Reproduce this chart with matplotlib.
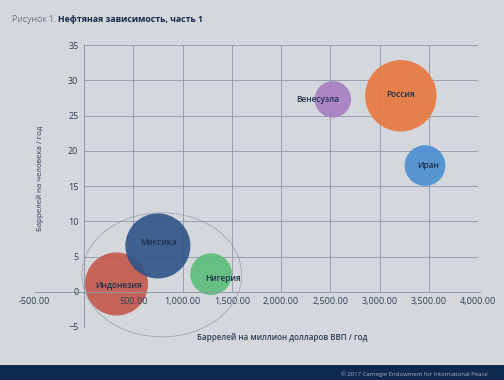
import matplotlib.pyplot as plt
from matplotlib.patches import Ellipse, Rectangle

plt.rcParams['font.family'] = ['Open Sans', 'DejaVu Sans']

# bubble data
countries = ["Индонезия", "Мексика", "Нигерия", "Венесуэла", "Россия", "Иран"]
barrels_per_gdp = [330, 750, 1290, 2525, 3215, 3460]
barrels_per_capita = [1.1, 6.5, 2.5, 27.3, 27.8, 17.9]
bubble_value = [9.6, 10.2, 4.2, 3.2, 12.3, 4.0]
colors = ["#C4584A", "#2F5488", "#5CBD78", "#A77CC2", "#E8773C", "#4A8FD2"]

x_ticks = [-500, 500, 1000, 1500, 2000, 2500, 3000, 3500, 4000]
y_ticks = [-5, 0, 5, 10, 15, 20, 25, 30, 35]

bg = "#D4D7DB"
text_col = "#2E3F57"
grid_col = "#8D97A7"

fig = plt.figure(figsize=(5.04, 3.8), dpi=100, facecolor=bg)
ax = fig.add_axes([0.0688, 0.1395, 0.884, 0.742])
ax.set_facecolor(bg)
ax.set_xlim(-500, 4020)
ax.set_ylim(-5, 35)

# grid only in the positive quadrant, like the original
ax.hlines([t for t in y_ticks if t > 0], 0, 4000, color=grid_col, lw=0.6, zorder=0)
ax.vlines([t for t in x_ticks if 0 < t < 4000], 0, 35, color=grid_col, lw=0.6, zorder=0)

for s in ["top", "right"]:
    ax.spines[s].set_visible(False)
for s in ["left", "bottom"]:
    ax.spines[s].set_position(("data", 0))
    ax.spines[s].set_color(grid_col)
    ax.spines[s].set_linewidth(0.7)
    ax.spines[s].set_zorder(5)
ax.xaxis.set_zorder(5)
ax.yaxis.set_zorder(5)

ax.set_xticks(x_ticks)
ax.set_xticklabels([f"{t:,.2f}" for t in x_ticks])
ax.set_yticks(y_ticks)
ax.tick_params(length=0, labelsize=6.5, labelcolor=text_col, pad=4)

sizes = [v * 215 for v in bubble_value]
ax.scatter(barrels_per_gdp, barrels_per_capita, s=sizes, c=colors,
           alpha=0.9, linewidths=0, zorder=2)

label_offsets = {"Венесуэла": (-15, 0), "Нигерия": (12, -4), "Индонезия": (2, -2),
                 "Мексика": (1, 3), "Иран": (3, 0), "Россия": (0, 1)}
for name, x, y in zip(countries, barrels_per_gdp, barrels_per_capita):
    dx, dy = label_offsets[name]
    ax.annotate(name, (x, y), xytext=(dx * 0.72, dy * 0.72), textcoords="offset points",
                ha="center", va="center", fontsize=6, color="#1E2F4A",
                fontweight="semibold", zorder=6)

ax.add_patch(Ellipse((790, 2.4), 1620, 17.6, fill=False, ec="#6F7A8C",
                     lw=0.5, ls=(0, (1.5, 1)), zorder=4, clip_on=False))

fig.text(282 / 504, 1 - 337 / 380, "Баррелей на миллион долларов ВВП / год",
         ha="center", va="center", fontsize=5.8, color=text_col, fontweight="semibold")
fig.text(40 / 504, 1 - 178 / 380, "Баррелей на человека / год", rotation=90,
         ha="center", va="center", fontsize=5.7, color=text_col)

t1 = fig.text(12 / 504, 1 - 22 / 380, "Рисунок 1. ", fontsize=6.3, color="#6A7687")
plt.annotate("Нефтяная зависимость, часть 1", xy=(1, 0), xycoords=t1,
             va="bottom", fontsize=6.3, color="#15294A", fontweight="bold")

fig.patches.append(Rectangle((0, 0), 1, 15 / 380, transform=fig.transFigure,
                             facecolor="#0E2A4F", edgecolor="none"))
fig.text(488 / 504, 6 / 380, "© 2017 Carnegie Endowment for International Peace",
         ha="right", va="center", fontsize=4.3, color="#A5B0C2")

fig.savefig("out.png", dpi=100, facecolor=bg)
